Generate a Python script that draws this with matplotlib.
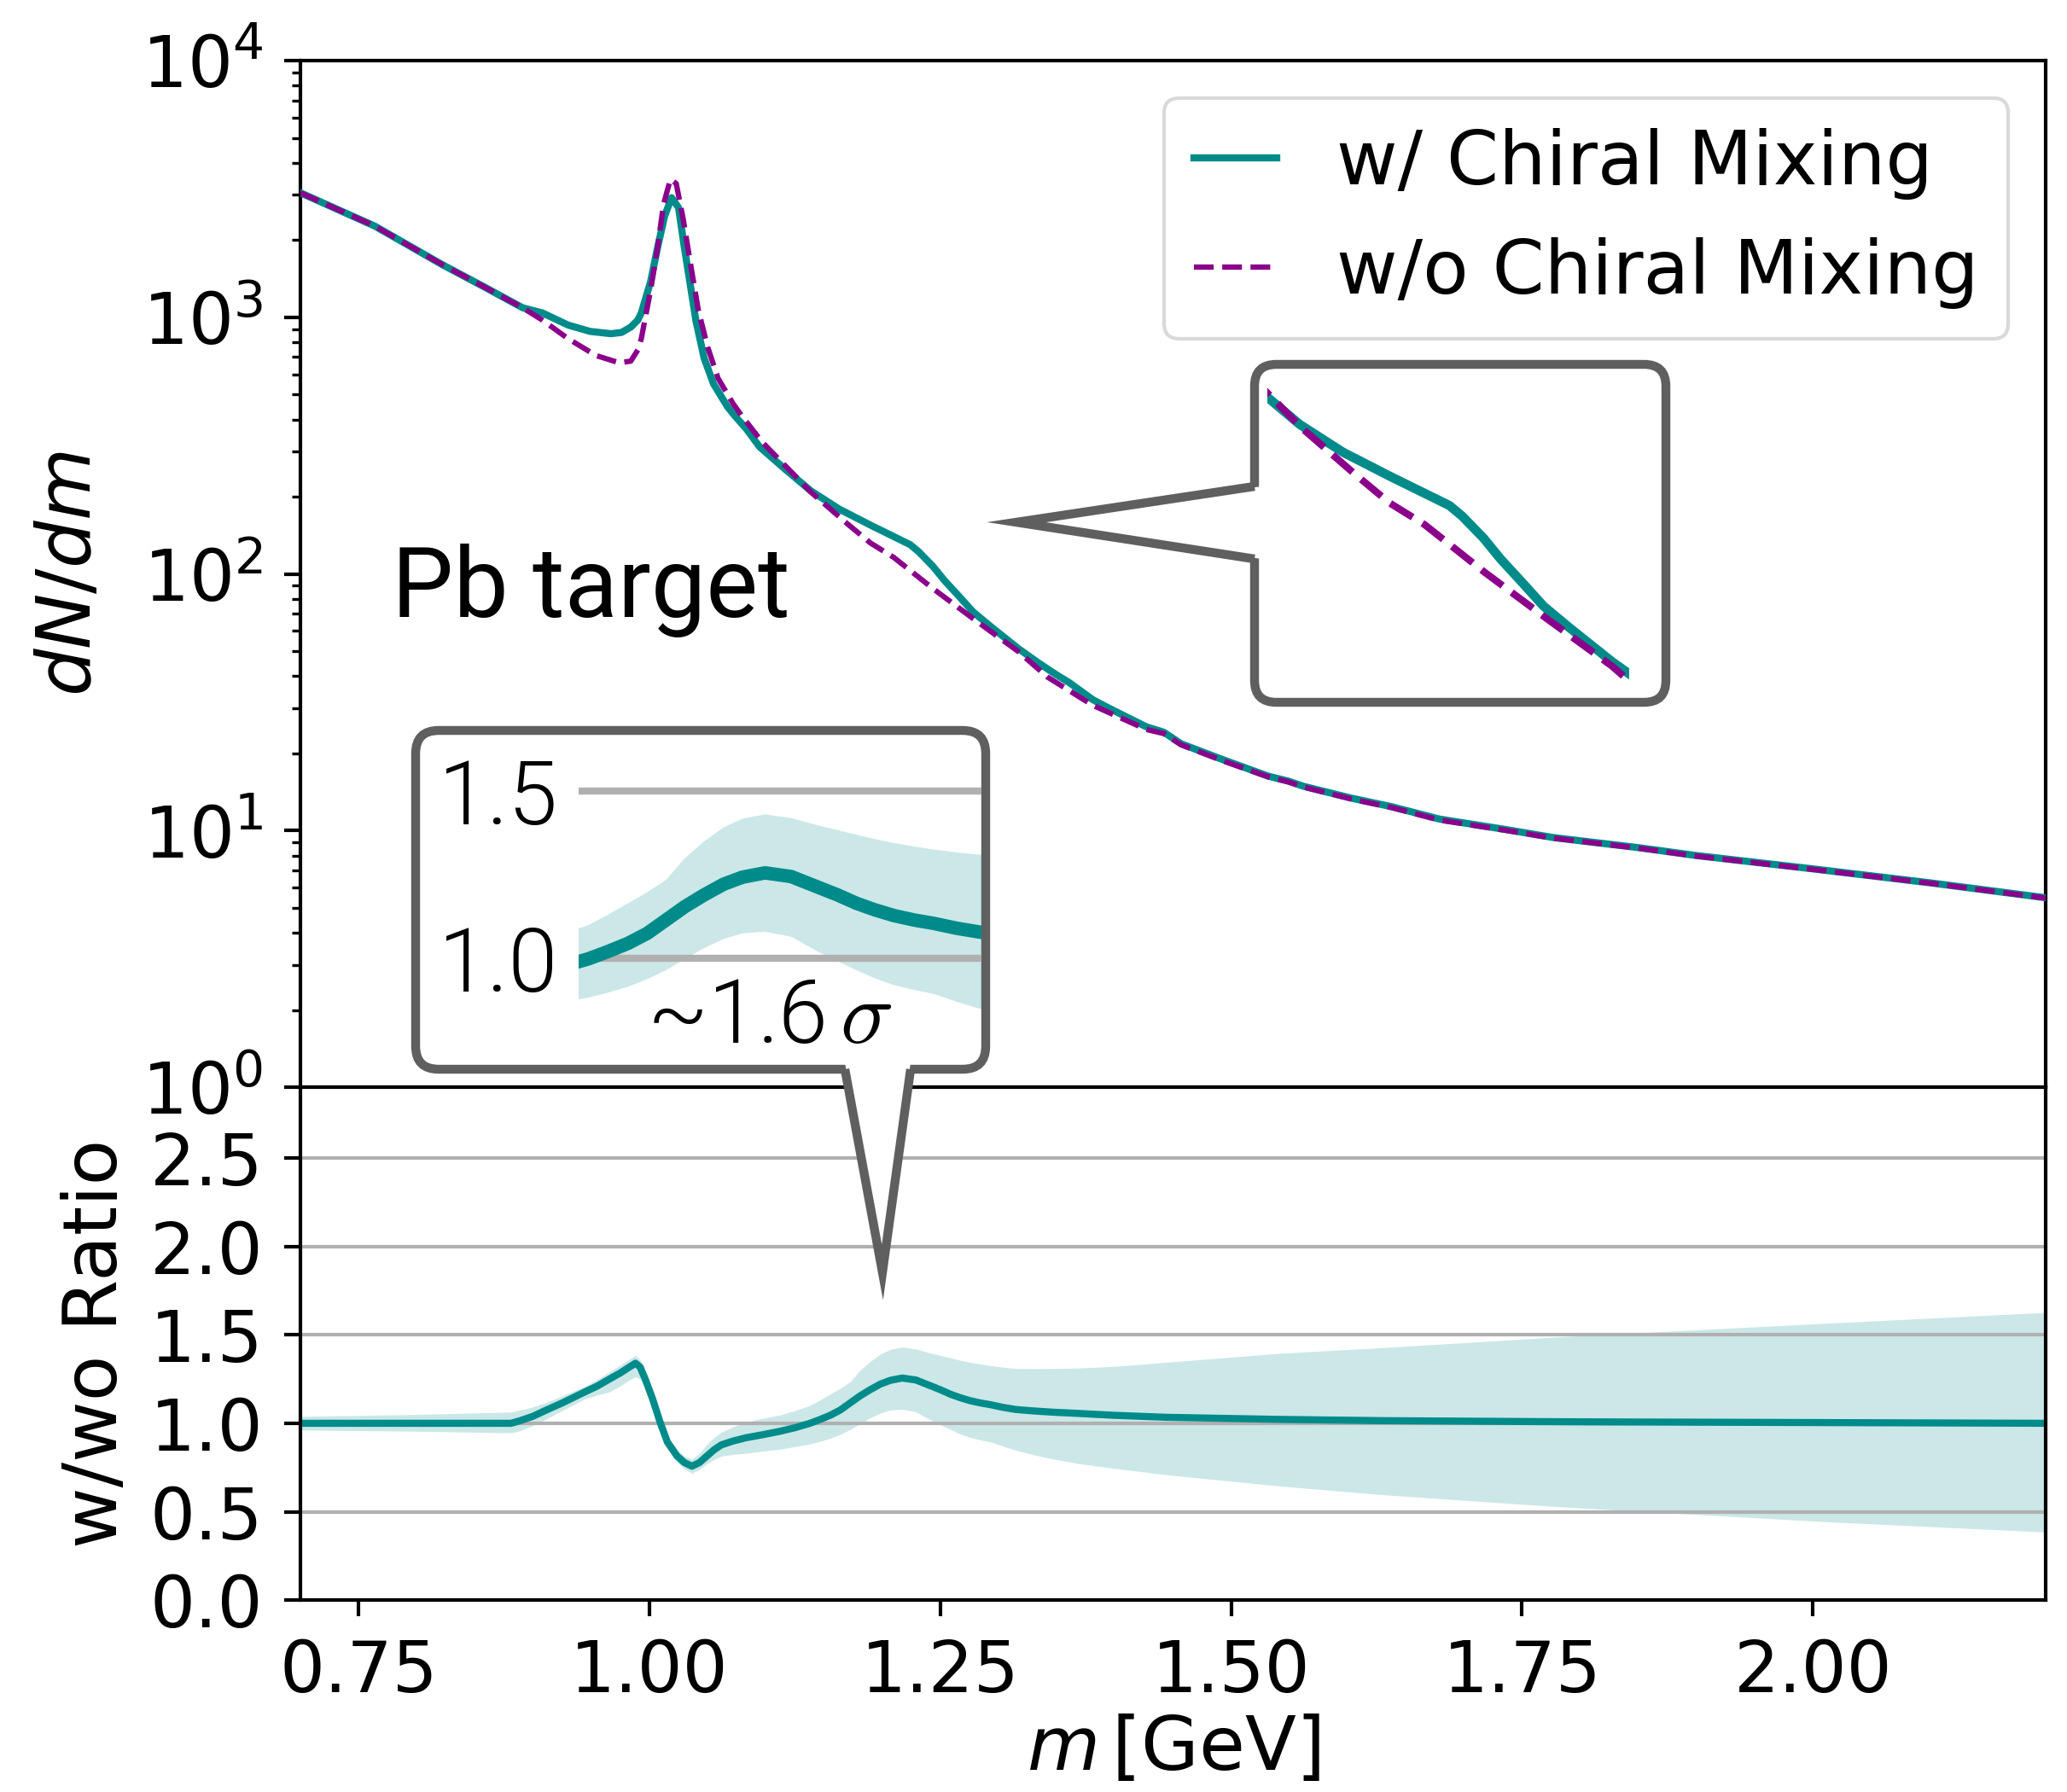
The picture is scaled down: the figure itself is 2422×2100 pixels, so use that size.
import numpy as np
import matplotlib
matplotlib.use("Agg")
import matplotlib.pyplot as plt
from matplotlib.patches import FancyBboxPatch, Polygon
from matplotlib.lines import Line2D

# dilepton mass spectrum, with and without chiral mixing (Pb target)
m_w = [0.700, 0.764, 0.822, 0.859, 0.891, 0.908, 0.930, 0.949, 0.967, 0.976,
       0.984, 0.990, 0.993, 1.001, 1.007, 1.013, 1.019, 1.025, 1.030, 1.035,
       1.040, 1.047, 1.055, 1.067, 1.0726, 1.0836, 1.0946, 1.1166, 1.1386, 1.1631,
       1.190, 1.2169, 1.2242, 1.2315, 1.2437, 1.2535, 1.2657, 1.278, 1.2926, 1.3171,
       1.3342, 1.349, 1.361, 1.381, 1.395, 1.427, 1.442, 1.457, 1.493, 1.532,
       1.549, 1.562, 1.603, 1.638, 1.679, 1.738, 1.777, 1.850, 1.900, 2.000,
       2.100, 2.200]
dndm_w = [3055, 2265, 1603, 1306, 1089, 1040, 933, 881, 863, 873,
          916, 975, 1040, 1377, 1871, 2477, 2924, 2673, 1871, 1346,
          966, 693, 551, 449, 417, 366, 313, 256, 211, 179,
          155, 135, 130, 122, 107, 94.4, 82.2, 71.3, 62.8, 51.2,
          45.1, 40.7, 37.7, 32.4, 30.0, 25.4, 24.2, 21.8, 18.9, 16.3,
          15.6, 14.9, 13.4, 12.4, 11.1, 10.07, 9.40, 8.59, 8.00, 7.10,
          6.27, 5.48]

m_wo = [0.700, 0.764, 0.822, 0.859, 0.891, 0.908, 0.930, 0.954, 0.974, 0.984,
        0.990, 0.993, 1.001, 1.007, 1.012, 1.018, 1.023, 1.029, 1.035, 1.042,
        1.050, 1.059, 1.072, 1.079, 1.097, 1.139, 1.170, 1.190, 1.210, 1.244,
        1.280, 1.317, 1.342, 1.381, 1.427, 1.442, 1.457, 1.493, 1.532, 1.549,
        1.562, 1.603, 1.638, 1.679, 1.738, 1.777, 1.850, 1.900, 2.000, 2.100,
        2.200]
dndm_wo = [3055, 2265, 1603, 1306, 1089, 975, 826, 710, 665, 675,
           746, 826, 1276, 1871, 2742, 3451, 3319, 2415, 1644, 1067,
           766, 578, 460, 415, 326, 208, 157, 132, 116, 87.5,
           66.1, 49.9, 39.7, 30.8, 24.8, 23.9, 21.6, 18.7, 16.2, 15.5,
           14.8, 13.3, 12.3, 11.0, 10.0, 9.35, 8.55, 7.96, 7.07, 6.25,
           5.46]

# w/wo ratio with its uncertainty band
m_r = [0.700, 0.800, 0.881, 0.889, 0.900, 0.910, 0.925, 0.944, 0.955, 0.965,
       0.975, 0.982, 0.988, 0.992, 0.9965, 1.0028, 1.0091, 1.0154, 1.0238, 1.030,
       1.0365, 1.043, 1.0492, 1.0555, 1.0618, 1.072, 1.0828, 1.097, 1.1122, 1.125,
       1.1375, 1.146, 1.1553, 1.164, 1.1725, 1.181, 1.1897, 1.1985, 1.207, 1.2172,
       1.229, 1.2412, 1.250, 1.2585, 1.267, 1.2756, 1.2845, 1.2933, 1.304, 1.315,
       1.330, 1.3466, 1.371, 1.400, 1.444, 1.542, 1.630, 1.777, 1.8135, 2.0115,
       2.200]
ratio = [1.000, 1.000, 1.000, 1.015, 1.040, 1.071, 1.115, 1.176, 1.210, 1.248,
         1.285, 1.315, 1.340, 1.318, 1.248, 1.136, 1.007, 0.894, 0.814, 0.778,
         0.757, 0.778, 0.814, 0.850, 0.878, 0.900, 0.918, 0.935, 0.955, 0.975,
         0.999, 1.020, 1.045, 1.075, 1.115, 1.155, 1.190, 1.222, 1.243, 1.256,
         1.245, 1.213, 1.190, 1.165, 1.145, 1.128, 1.115, 1.105, 1.090, 1.078,
         1.070, 1.063, 1.055, 1.045, 1.034, 1.022, 1.015, 1.009, 1.008, 1.004,
         1.000]
ratio_lo = [0.962, 0.955, 0.946, 0.958, 0.988, 1.020, 1.072, 1.136, 1.160, 1.176,
            1.212, 1.242, 1.264, 1.250, 1.200, 1.100, 0.975, 0.865, 0.780, 0.742,
            0.717, 0.740, 0.770, 0.795, 0.814, 0.824, 0.830, 0.842, 0.854, 0.868,
            0.883, 0.897, 0.915, 0.938, 0.965, 0.998, 1.031, 1.058, 1.075, 1.080,
            1.065, 1.020, 0.992, 0.965, 0.940, 0.920, 0.906, 0.894, 0.870, 0.848,
            0.822, 0.798, 0.770, 0.745, 0.709, 0.645, 0.596, 0.530, 0.516, 0.443,
            0.385]
ratio_hi = [1.039, 1.050, 1.064, 1.075, 1.093, 1.115, 1.155, 1.208, 1.248, 1.289,
            1.330, 1.360, 1.385, 1.360, 1.290, 1.170, 1.040, 0.925, 0.850, 0.815,
            0.797, 0.830, 0.880, 0.920, 0.950, 0.980, 1.007, 1.028, 1.047, 1.072,
            1.100, 1.130, 1.165, 1.198, 1.235, 1.300, 1.350, 1.392, 1.418, 1.431,
            1.420, 1.398, 1.384, 1.370, 1.357, 1.345, 1.335, 1.326, 1.317, 1.310,
            1.309, 1.310, 1.313, 1.322, 1.345, 1.396, 1.428, 1.487, 1.500, 1.566,
            1.627]

x_ticks = [0.75, 1.00, 1.25, 1.50, 1.75, 2.00]
ratio_ticks = [0.0, 0.5, 1.0, 1.5, 2.0, 2.5]

TEAL = "#008b8b"
PURPLE = "#8b008b"
EDGE = "#5f5f5f"
GRID = "#b0b0b0"

DPI = 300
W_PX, H_PX = 2422, 2100

plt.rcParams["font.family"] = "DejaVu Sans"
plt.rcParams["font.size"] = 20


def rect(x0, y0, x1, y1):
    """pixel box (top-down) -> figure fraction rect"""
    return [x0 / W_PX, 1 - y1 / H_PX, (x1 - x0) / W_PX, (y1 - y0) / H_PX]


def inch(x, y):
    return (x / DPI, (H_PX - y) / DPI)


def callout(fig, box, base_a, tip, base_b, inward, radius):
    x0, y0, x1, y1 = box
    patch = FancyBboxPatch(inch(x0, y1), (x1 - x0) / DPI, (y1 - y0) / DPI,
                           boxstyle=f"round,pad=0,rounding_size={radius}",
                           transform=fig.dpi_scale_trans, fc="white",
                           ec=EDGE, lw=2.5, zorder=5)
    fig.add_artist(patch)
    dx, dy = inward
    cover = Polygon([inch(base_a[0] + dx, base_a[1] + dy), inch(*tip),
                     inch(base_b[0] + dx, base_b[1] + dy)],
                    closed=True, transform=fig.dpi_scale_trans,
                    fc="white", ec="none", lw=0, zorder=6)
    fig.add_artist(cover)
    pts = [inch(*base_a), inch(*tip), inch(*base_b)]
    side = Line2D([p[0] for p in pts], [p[1] for p in pts],
                  transform=fig.dpi_scale_trans, color=EDGE, lw=2.5,
                  solid_joinstyle="miter", solid_capstyle="butt", zorder=7)
    fig.add_artist(side)


fig = plt.figure(figsize=(W_PX / DPI, H_PX / DPI), dpi=DPI)
ax = fig.add_axes(rect(352, 71, 2397, 1274.3))
axr = fig.add_axes(rect(352, 1274.3, 2397, 1875.1), sharex=ax)

ax.plot(m_w, dndm_w, color=TEAL, lw=2.0, label="w/ Chiral Mixing", zorder=3)
ax.plot(m_wo, dndm_wo, color=PURPLE, lw=1.5, ls="--",
        label="w/o Chiral Mixing", zorder=4)
ax.set_yscale("log")
ax.set_ylim(1, 1e4)
ax.set_xlim(0.7, 2.2)
ax.set_ylabel(r"$dN/dm$", fontsize=21, labelpad=10)
ax.tick_params(labelbottom=False)
ax.legend(loc="upper right", fontsize=21, handlelength=1.1,
          framealpha=1, edgecolor="#d9d9d9")

axr.fill_between(m_r, ratio_lo, ratio_hi, color=TEAL, alpha=0.2, lw=0)
axr.plot(m_r, ratio, color=TEAL, lw=2.0)
axr.set_ylim(0, 2.9)
axr.set_yticks(ratio_ticks)
axr.set_xticks(x_ticks)
axr.grid(axis="y", color=GRID, lw=1.0)
axr.set_ylabel("w/wo Ratio", fontsize=21, labelpad=5)
axr.set_xlabel(r"$m\,$[GeV]", fontsize=21, labelpad=2)

for a in (ax, axr):
    for s in a.spines.values():
        s.set_linewidth(1.0)
    a.tick_params(which="major", length=4.5, width=1.0, pad=6, labelsize=20)
    a.tick_params(which="minor", length=2.5, width=0.8)

fig.text(459 / W_PX, 1 - 723 / H_PX, "Pb target", family="Roboto",
         fontsize=27.5, va="baseline")

# magnified view of the spectrum shoulder
callout(fig, (1470, 427, 1952, 823), (1470, 570), (1191, 612), (1470, 655),
        (8, 0), 0.085)
axi = fig.add_axes(rect(1485, 455, 1909, 805), zorder=8)
axi.plot(m_w, dndm_w, color=TEAL, lw=2.6)
axi.plot(m_wo, dndm_wo, color=PURPLE, lw=2.0, ls="--")
axi.set_yscale("log")
axi.set_xlim(1.120, 1.327)
axi.set_ylim(44, 262)
axi.axis("off")

# magnified view of the ratio bump
callout(fig, (487, 856, 1155, 1253), (990, 1253), (1034, 1491), (1067, 1253),
        (0, -8), 0.09)
axri = fig.add_axes(rect(678, 865, 1150, 1245), zorder=8)
axri.set_facecolor("none")
axri.fill_between(m_r, ratio_lo, ratio_hi, color=TEAL, alpha=0.2, lw=0)
axri.plot(m_r, ratio, color=TEAL, lw=3.8)
axri.set_xlim(1.133, 1.315)
axri.set_ylim(0.689, 1.659)
axri.set_xticks([])
axri.set_yticks([1.0, 1.5])
axri.set_yticklabels(["1.0", "1.5"], family="Roboto", weight=300, fontsize=25)
axri.tick_params(axis="y", length=0, pad=5.8)
axri.grid(axis="y", color=GRID, lw=2.0)
for s in axri.spines.values():
    s.set_visible(False)
fig.text(902 / W_PX, 1 - 1222 / H_PX, r"~1.6$\,\sigma$", family="Roboto",
         weight=300, fontsize=25, ha="center", va="baseline",
         math_fontfamily="cm", zorder=9)

fig.savefig("out.png", dpi=DPI)
